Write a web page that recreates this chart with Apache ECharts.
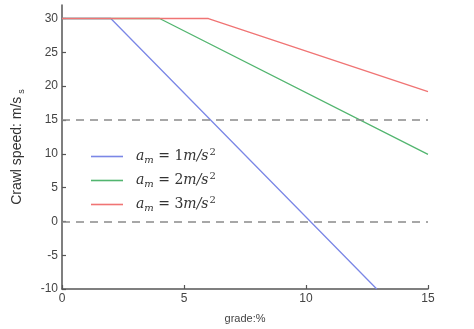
<!DOCTYPE html>
<html>
<head>
<meta charset="utf-8">
<script src="https://cdn.jsdelivr.net/npm/echarts@6/dist/echarts.min.js"></script>
<style>html,body{margin:0;padding:0;background:#fff}#chart{width:474px;height:329px}</style>
</head>
<body>
<div id="chart"></div>
<script>
// Crawl speed versus road grade for three traction accelerations
const accel = [1, 2, 3];
const gradeA1 = [0, 2, 12.9];
const speedA1 = [30, 30, -10];
const gradeA2 = [0, 4, 15];
const speedA2 = [30, 30, 9.9];
const gradeA3 = [0, 6, 15];
const speedA3 = [30, 30, 19.2];
const refLevels = [15, 0];
const xTicks = [0, 5, 10, 15];
const yTicks = [-10, -5, 0, 5, 10, 15, 20, 25, 30];

const colors = ['#7b87e6', '#52b56f', '#f07474'];
const names = accel.map(a => 'a' + a);
const pairs = (xs, ys) => xs.map((x, i) => [x, ys[i]]);
const curves = [pairs(gradeA1, speedA1), pairs(gradeA2, speedA2), pairs(gradeA3, speedA3)];

const axisColor = '#555';
const chart = echarts.init(document.getElementById('chart'));

const series = curves.map((d, i) => ({
  name: names[i],
  type: 'line',
  data: d,
  symbol: 'none',
  lineStyle: { color: colors[i], width: 1.3 },
  itemStyle: { color: colors[i] },
  z: 3
}));
series.push({
  type: 'line',
  data: [],
  markLine: {
    silent: true,
    symbol: 'none',
    label: { show: false },
    lineStyle: { color: '#8a8a8a', type: [8, 6], width: 1.6 },
    data: refLevels.map(v => ({ yAxis: v }))
  }
});

chart.setOption({
  animation: false,
  grid: { left: 62, right: 46, top: 5, bottom: 39 },
  xAxis: {
    type: 'value', min: 0, max: 15, interval: 5,
    name: 'grade:%', nameLocation: 'middle', nameGap: 24,
    nameTextStyle: { color: '#444', fontSize: 11, fontFamily: 'Liberation Sans' },
    axisLine: { onZero: false, lineStyle: { color: axisColor, width: 1.5 } },
    axisTick: { inside: true, length: 4, lineStyle: { color: axisColor, width: 1.2 } },
    axisLabel: { color: '#444', fontSize: 12, margin: 4, fontFamily: 'Liberation Sans',
      formatter: v => xTicks.includes(v) ? String(v) : '' },
    splitLine: { show: false }
  },
  yAxis: {
    type: 'value', min: -10, max: 32, interval: 5,
    name: '{t|Crawl speed: m/s}{s|s}', nameLocation: 'middle', nameGap: 36,
    nameTextStyle: {
      rich: {
        t: { color: '#333', fontSize: 14, fontFamily: 'Liberation Sans' },
        s: { color: '#333', fontSize: 9, fontFamily: 'Liberation Sans', padding: [8, 0, 0, 3] }
      }
    },
    axisLine: { show: true, onZero: false, lineStyle: { color: axisColor, width: 1.5 } },
    axisTick: { inside: true, length: 4, lineStyle: { color: axisColor, width: 1.2 } },
    axisLabel: { color: '#444', fontSize: 12, margin: 4, fontFamily: 'Liberation Sans',
      showMaxLabel: false,
      formatter: v => yTicks.includes(v) ? String(v) : '' },
    splitLine: { show: false }
  },
  legend: {
    orient: 'vertical', left: 86, top: 142,
    itemWidth: 32, itemHeight: 10, itemGap: 6,
    icon: 'path://M0,4.2L32,4.2L32,5.8L0,5.8Z',
    data: names,
    formatter: n => {
      const a = accel[names.indexOf(n)];
      return '{i|a}{sub|m}{u| = ' + a + '}{i|m/s}{sup|2}';
    },
    textStyle: {
      padding: [0, 0, 0, 8],
      rich: {
        i: { fontFamily: 'DejaVu Serif', fontStyle: 'italic', fontSize: 14, color: '#333' },
        u: { fontFamily: 'DejaVu Serif', fontSize: 14, color: '#333' },
        sub: { fontFamily: 'DejaVu Serif', fontStyle: 'italic', fontSize: 10, color: '#333', padding: [7, 0, 0, 0] },
        sup: { fontFamily: 'DejaVu Serif', fontSize: 10, color: '#333', padding: [0, 0, 9, 1] }
      }
    }
  },
  series: series
});
</script>
</body>
</html>
